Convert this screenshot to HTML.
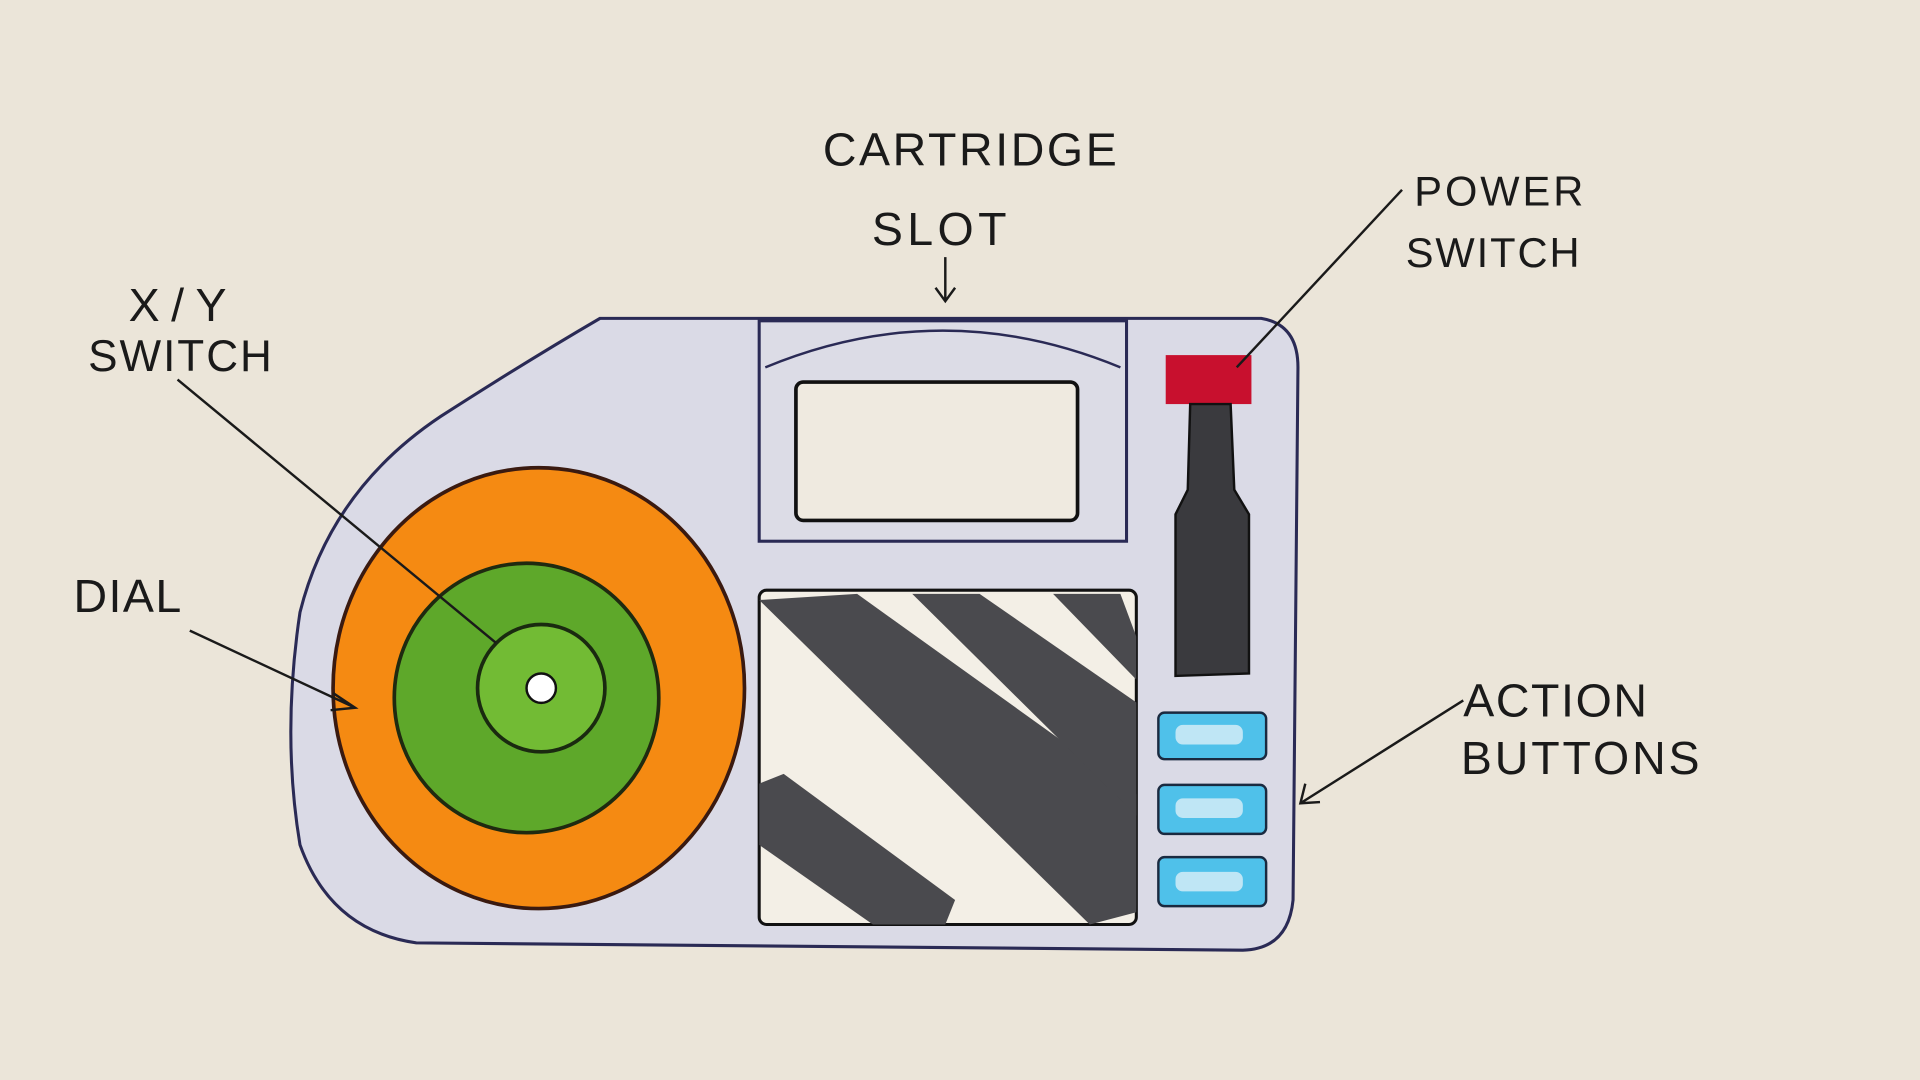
<!DOCTYPE html>
<html><head><meta charset="utf-8"><style>
html,body{margin:0;padding:0;background:#ebe5d9;}
svg{display:block;}
text{font-family:"Liberation Sans",sans-serif;fill:#1a1a1a;}
</style></head><body>
<svg width="1920" height="1080" viewBox="0 0 1568 882" xmlns="http://www.w3.org/2000/svg">
<rect width="1568" height="882" fill="#ebe5d9"/>
<path d="M490,260 L1030,260 Q1060,265 1060,300 L1056,735 Q1052,775 1015,776 L340,770 Q270,760 245,690 Q230,600 245,500 Q270,400 360,340 Q430,295 490,260 Z" fill="#dadae6" stroke="#2a2a55" stroke-width="2.5"/>
<ellipse cx="440" cy="562" rx="168" ry="180" fill="#f58a12" stroke="#3a1a10" stroke-width="3"/>
<ellipse cx="430" cy="570" rx="108" ry="110" fill="#5ea82a" stroke="#1f2a10" stroke-width="3"/>
<circle cx="442" cy="562" r="52" fill="#72bb34" stroke="#1a2a10" stroke-width="3"/>
<circle cx="442" cy="562" r="12" fill="#fff" stroke="#111" stroke-width="2"/>
<rect x="620" y="262" width="300" height="180" fill="#dcdce6" stroke="#2a2a55" stroke-width="2.5"/>
<path d="M625,300 Q770,240 915,300" fill="none" stroke="#2a2a55" stroke-width="2"/>
<rect x="650" y="312" width="230" height="113" rx="6" fill="#efeae0" stroke="#111" stroke-width="3"/>
<rect x="620" y="482" width="308" height="273" rx="6" fill="#f3efe6" stroke="#111" stroke-width="2.5"/>
<clipPath id="c"><rect x="620" y="482" width="308" height="273"/></clipPath>
<g clip-path="url(#c)" fill="#4a4a4e">
<polygon points="620,490 700,485 930,650 928,745 890,755"/>
<polygon points="745,485 800,485 930,575 930,668"/>
<polygon points="860,485 915,485 928,520 928,555"/>
<polygon points="620,640 640,632 780,735 770,760 720,760 620,690"/>
</g>
<rect x="952" y="290" width="70" height="40" fill="#c8102e"/>
<path d="M972,330 L1005,330 L1008,400 L1020,420 L1020,550 L960,552 L960,420 L970,400 Z" fill="#3a3a3e" stroke="#111" stroke-width="2"/>
<rect x="946" y="582" width="88" height="38" rx="5" fill="#4fc1ea" stroke="#1a2a40" stroke-width="2"/>
<rect x="946" y="641" width="88" height="40" rx="5" fill="#4fc1ea" stroke="#1a2a40" stroke-width="2"/>
<rect x="946" y="700" width="88" height="40" rx="5" fill="#4fc1ea" stroke="#1a2a40" stroke-width="2"/>
<g fill="#bfe6f5"><rect x="960" y="592" width="55" height="16" rx="6"/><rect x="960" y="652" width="55" height="16" rx="6"/><rect x="960" y="712" width="55" height="16" rx="6"/></g>
<g font-size="38">
<text x="672" y="135" textLength="240">CARTRIDGE</text>
<text x="712" y="200" textLength="110">SLOT</text>
<text x="1155" y="168" textLength="138" font-size="34">POWER</text>
<text x="1148" y="218" textLength="142" font-size="34">SWITCH</text>
<text x="105" y="262" textLength="80">X/Y</text>
<text x="72" y="303" textLength="150" font-size="36">SWITCH</text>
<text x="60" y="500" textLength="88">DIAL</text>
<text x="1195" y="585" textLength="150">ACTION</text>
<text x="1193" y="632" textLength="195">BUTTONS</text>
</g>
<g stroke="#1a1a1a" stroke-width="2" fill="none">
<path d="M772,210 L772,245 M764,235 L772,246 L780,235"/>
<path d="M1145,155 L1010,300"/>
<path d="M145,310 L405,525"/>
<path d="M155,515 L290,578 M272,566 L290,578 L270,580"/>
<path d="M1195,572 L1062,656 M1066,640 L1062,656 L1078,655"/>
</g>
</svg>
</body></html>
